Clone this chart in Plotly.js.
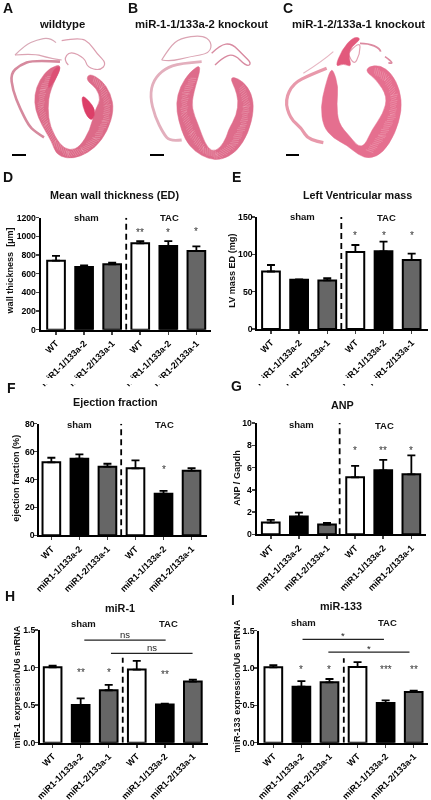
<!DOCTYPE html>
<html><head><meta charset="utf-8">
<script src="https://cdn.plot.ly/plotly-3.0.1.min.js"></script>
<style>html,body{margin:0;padding:0;background:#fff}#c{width:431px;height:800px;filter:blur(0.3px)}</style>
</head><body><div id="c"></div>
<script>
const W=431,H=800;
const categories=['WT','miR1-1/133a-2','miR1-2/133a-1','WT','miR1-1/133a-2','miR1-2/133a-1'];
const barColors=['#ffffff','#000000','#666666','#ffffff','#000000','#666666'];

const wallValues=[740,672,700,925,896,843];
const wallErrors=[50,18,18,25,54,50];
const massValues=[77,66,65,103,104,92.4];
const massErrors=[8.7,0.3,3,9.5,13,8.6];
const efValues=[52.3,54.9,49.2,48,29.8,46.3];
const efErrors=[3.3,3.1,2.1,5.7,2,1.9];
const anpValues=[1.05,1.59,0.87,5.12,5.75,5.39];
const anpErrors=[0.24,0.36,0.15,1.02,0.93,1.71];
const mir1Values=[1.004,0.502,0.698,0.973,0.507,0.813];
const mir1Errors=[0.023,0.088,0.072,0.117,0.013,0.027];
const mir133Values=[1.009,0.75,0.808,1.013,0.531,0.679];
const mir133Errors=[0.031,0.076,0.045,0.067,0.036,0.017];

const FONT='"Liberation Sans", Arial, sans-serif';
const px=x=>x/W, py=y=>1-y/H;

const panels=[
 {v:wallValues,e:wallErrors,box:[40.7,210.7,217.7,329.7],xr:[-0.546,5.51],max:1200,dt:200,yt:'wall thickness  [µm]',tx:9.5,ty:271,
  stars:[[3,'**',1040],[4,'*',1040],[5,'*',1050]],dash:1200},
 {v:massValues,e:massErrors,box:[257.3,427.7,217,329],xr:[-0.486,5.57],max:150,dt:50,yt:'LV mass ED (mg)',tx:231.7,ty:271,
  stars:[[3,'*',125],[4,'*',125],[5,'*',125]],dash:150},
 {v:efValues,e:efErrors,box:[39.3,206.7,423.7,535.3],xr:[-0.43,5.54],max:80,dt:20,yt:'ejection fraction (%)',tx:15.7,ty:478,
  stars:[[4,'*',47]],dash:80},
 {v:anpValues,e:anpErrors,box:[256.7,425.7,423,534.3],xr:[-0.5,5.51],max:10,dt:2,yt:'ANP / Gapdh',tx:236.7,ty:478,
  stars:[[3,'*',7.5],[4,'**',7.5],[5,'*',7.5]],dash:10},
 {v:mir1Values,e:mir1Errors,box:[40,208,630,742.7],xr:[-0.45,5.54],max:1.5,dt:0.5,yt:'miR-1 expression/U6 snRNA',tx:16.7,ty:686.7,
  stars:[[1,'**',0.93],[2,'*',0.93],[4,'**',0.91]],dash:1.13,
  spans:[[1.13,4.03,1.364,'ns',1.44],[2.08,4.99,1.19,'ns',1.267]]},
 {v:mir133Values,e:mir133Errors,box:[259.3,428.3,630.7,742.7],xr:[-0.5,5.52],max:1.5,dt:0.5,yt:'miR-133 expression/U6 snRNA',tx:237,ty:686.7,
  stars:[[1,'*',0.98],[2,'*',0.98],[4,'***',0.98],[5,'**',0.98]],dash:1.13,
  spans:[[1.04,3.94,1.384,'*',1.43],[1.96,4.85,1.214,'*',1.26]]}
];
const dashX=[2.5,2.5,2.49,2.45,2.5,2.51];

const texts=[
 ['A',7.5,8,14,700],['B',133,8,14,700],['C',288,8,14,700],
 ['D',7.5,177,14,700],['E',236,177,14,700],['F',11,388,14,700],['G',236,386,14,700],['H',10,596,14,700],['I',233,600,14,700],
 ['wildtype',62,24,11.3,700],['miR-1-1/133a-2 knockout',201,24,11.3,700],['miR-1-2/133a-1 knockout',358.7,24,11.3,700],
 ['Mean wall thickness (ED)',115,195,10.8,700],['Left Ventricular mass',357,195,10.8,700],
 ['Ejection fraction',115.7,402,10.8,700],['ANP',342,404.7,10.8,700],['miR-1',120,607.7,10.8,700],['miR-133',341,605.7,10.8,700],
 ['sham',86,217,9.5,700],['TAC',169,218,9.5,700],['sham',302,216,9.5,700],['TAC',386,217,9.5,700],
 ['sham',79,424,9.5,700],['TAC',164,424,9.5,700],['sham',301,424,9.5,700],['TAC',384,425,9.5,700],
 ['sham',83,623,9.5,700],['TAC',168,623,9.5,700],['sham',303,622,9.5,700],['TAC',387,622,9.5,700]
];

// ---- heart section sketches (page-pixel illustration, not data) ----
function smooth(pts,ox,oy,closed){
 const P=pts.map(p=>[ox+p[0]/3,oy+p[1]/3]);
 const f=p=>px(p[0]).toFixed(5)+' '+py(p[1]).toFixed(5);
 const mid=(a,b)=>[(a[0]+b[0])/2,(a[1]+b[1])/2];
 let d;
 if(closed){
  d='M '+f(mid(P[P.length-1],P[0]));
  P.forEach((p,i)=>{d+=' Q '+f(p)+' '+f(mid(p,P[(i+1)%P.length]));});
  return d+' Z';
 }
 d='M '+f(P[0]);
 for(let i=1;i<P.length-1;i++) d+=' Q '+f(P[i])+' '+f(i===P.length-2?P[i+1]:mid(P[i],P[i+1]));
 return d;
}
const decor=[];
const base={type:'path',xref:'paper',yref:'paper',layer:'above'};
function fillS(pts,ox,oy,fill,line){decor.push({...base,path:smooth(pts,ox,oy,true),fillcolor:fill,line:{color:line||fill,width:0.5}});}
function strokeS(pts,ox,oy,color,w){decor.push({...base,path:smooth(pts,ox,oy,false),fillcolor:'rgba(0,0,0,0)',line:{color:color,width:w}});}
function hatch(pts,ox,oy,half,color,w){
 let d='';const f=(x,y)=>px(x).toFixed(5)+' '+py(y).toFixed(5);
 for(let i=0;i<pts.length-1;i++){
  const a=[ox+pts[i][0]/3,oy+pts[i][1]/3],b=[ox+pts[i+1][0]/3,oy+pts[i+1][1]/3];
  const dx=b[0]-a[0],dy=b[1]-a[1],L=Math.hypot(dx,dy),ux=dx/L,uy=dy/L,nx=-uy,ny=ux;
  for(let s=0;s<L;s+=2.1){
   const cx=a[0]+ux*s,cy=a[1]+uy*s,k=half*(0.7+0.3*((i+Math.round(s))%3)/2);
   d+=' M '+f(cx-nx*k-ux*1.2,cy-ny*k-uy*1.2)+' L '+f(cx+nx*k+ux*1.2,cy+ny*k+uy*1.2);
  }
 }
 decor.push({...base,path:d.trim(),fillcolor:'rgba(0,0,0,0)',line:{color:color,width:w}});
}
const STRIA='rgba(250,225,231,0.55)';

// heart A
(()=>{const o=[0,30];
 strokeS([[45,75],[75,45],[110,30],[150,22],[168,38]],o[0],o[1],'#d8a8b6',1.2);
 strokeS([[45,75],[100,70],[150,85],[185,90]],o[0],o[1],'#dba4b3',1.2);
 strokeS([[185,32],[240,22],[270,40],[290,70],[320,100],[300,122],[262,112],[255,85],[210,62],[190,90],[205,105]],o[0],o[1],'#dc9fb0',1.2);
 strokeS([[180,95],[100,90],[60,105],[32,130],[38,180],[60,235],[85,285],[105,305],[132,322]],o[0],o[1],'#d68a9e',2.6);
 fillS([[190,102],[150,112],[118,150],[103,195],[106,240],[125,285],[155,335],[168,372],[200,386],[242,380],[287,352],[322,305],[342,240],[332,190],[305,150],[268,130],[258,150],[290,175],[302,210],[285,240],[270,300],[240,350],[210,362],[180,345],[150,290],[143,235],[150,180]],o[0],o[1],'#dc6a88');
 hatch([[150,140],[128,180],[122,235],[138,285],[165,340],[205,372],[250,362],[290,325],[318,270],[322,220],[305,170],[280,148]],o[0],o[1],3.6,STRIA,0.45);
 fillS([[245,195],[265,210],[287,240],[278,272],[262,262],[248,230]],o[0],o[1],'#dc3f68');
 fillS([[160,115],[185,108],[160,160],[140,180]],o[0],o[1],'#dd4f74');
})();
// heart B
(()=>{const o=[140,30];
 strokeS([[65,90],[90,50],[120,25],[185,15],[215,35],[210,70],[150,80],[90,95],[65,90]],o[0],o[1],'#dba4b3',1.2);
 strokeS([[215,70],[240,45],[275,40],[310,75],[335,100],[320,110],[280,70],[245,85],[225,105]],o[0],o[1],'#d88aa0',1.4);
 strokeS([[185,95],[120,100],[75,115],[40,150],[30,200],[45,260],[70,310],[90,335],[125,330]],o[0],o[1],'#e3afbd',2.8);
 fillS([[187,100],[150,125],[120,170],[108,220],[115,270],[135,330],[165,365],[205,387],[245,390],[290,365],[325,310],[342,240],[335,190],[310,155],[280,140],[272,148],[285,175],[295,210],[290,255],[265,300],[260,320],[240,355],[215,365],[195,340],[175,285],[155,235],[160,190]],o[0],o[1],'#de6c8b');
 hatch([[160,145],[135,195],[132,250],[155,310],[190,360],[235,378],[280,345],[310,285],[320,225],[305,170]],o[0],o[1],3.8,STRIA,0.45);
})();
// heart C
(()=>{const o=[280,30];
 strokeS([[70,130],[130,92],[160,65]],o[0],o[1],'#e7b7c3',1.2);
 strokeS([[240,40],[265,40],[300,55],[302,65]],o[0],o[1],'#dc8aa0',1.8);
 strokeS([[315,80],[350,105],[325,98]],o[0],o[1],'#dc8aa0',1.6);
 strokeS([[205,70],[240,30],[240,72],[220,110],[205,70]],o[0],o[1],'#e3a0b2',1.2);
 fillS([[165,112],[185,60],[220,20],[245,25],[215,50],[205,75],[215,112],[190,100]],o[0],o[1],'#e2597c');
 strokeS([[140,115],[90,135],[40,160],[15,210],[30,265],[65,295],[85,330],[130,338]],o[0],o[1],'#e899ab',3.2);
 fillS([[150,122],[135,170],[122,230],[130,290],[160,325],[200,345],[235,375],[270,387],[310,367],[345,312],[366,240],[360,180],[335,130],[300,105],[265,110],[258,125],[290,150],[322,200],[310,250],[275,300],[255,345],[235,350],[210,320],[175,280],[170,220],[175,170],[160,120]],o[0],o[1],'#e56f8f');
 hatch([[285,122],[320,145],[342,195],[338,255],[305,320],[265,368]],o[0],o[1],3.8,STRIA,0.45);
})();
[[12,26,155],[150,164,155],[286,299,155]].forEach(b=>decor.push({type:'line',xref:'paper',yref:'paper',layer:'above',x0:px(b[0]),x1:px(b[1]),y0:py(b[2]),y1:py(b[2]),line:{color:'#000',width:2}}));

// ---- build figure ----
const data=[],shapes=[...decor],annotations=[];
const layout={width:W,height:H,margin:{l:0,r:0,t:0,b:0},paper_bgcolor:'#fff',plot_bgcolor:'rgba(0,0,0,0)',showlegend:false,font:{family:FONT,color:'#000'}};
panels.forEach((p,i)=>{
 const n=i+1,xk=n===1?'xaxis':'xaxis'+n,yk=n===1?'yaxis':'yaxis'+n,xa='x'+(n===1?'':n),ya='y'+(n===1?'':n);
 data.push({type:'bar',x:[0,1,2,3,4,5],y:p.v,xaxis:xa,yaxis:ya,width:0.63,
  marker:{color:barColors,line:{color:'#000',width:2}},
  error_y:{type:'data',symmetric:false,array:p.e,arrayminus:p.e.map(()=>0),color:'#000',thickness:1.8,width:4},hoverinfo:'skip'});
 layout[xk]={domain:[px(p.box[0]),px(p.box[1])],range:p.xr,anchor:ya,tickmode:'array',tickvals:[0,1,2,3,4,5],ticktext:categories,tickangle:-45,
  ticks:'outside',ticklen:3,tickwidth:1.5,showline:true,linewidth:2,linecolor:'#000',showgrid:false,zeroline:false,
  tickfont:{family:FONT,size:9,weight:700,color:'#000'},automargin:false};
 layout[yk]={domain:[py(p.box[3]),py(p.box[2])],range:[0,p.max],anchor:xa,dtick:p.dt,tick0:0,ticks:'outside',ticklen:3,tickwidth:1.5,ticklabelstandoff:-2,
  showline:true,linewidth:2,linecolor:'#000',showgrid:false,zeroline:false,tickformat:p.max<2?'.1f':'d',
  tickfont:{family:FONT,size:8.7,weight:700,color:'#000'},automargin:false};
 annotations.push({xref:'paper',yref:'paper',x:px(p.tx),y:py(p.ty),text:p.yt,textangle:-90,showarrow:false,xanchor:'center',yanchor:'middle',font:{family:FONT,size:9.1,weight:700,color:'#111'}});
 shapes.push({type:'line',xref:xa,yref:ya,x0:dashX[i],x1:dashX[i],y0:0,y1:p.dash,layer:'above',line:{color:'#000',width:1.8,dash:'6px,4px'}});
 p.stars.forEach(s=>annotations.push({xref:xa,yref:ya,x:s[0],y:s[2],text:s[1],showarrow:false,xanchor:'center',yanchor:'middle',font:{family:FONT,size:10,color:'#333'}}));
 (p.spans||[]).forEach(s=>{
  shapes.push({type:'line',xref:xa,yref:ya,x0:s[0],x1:s[1],y0:s[2],y1:s[2],layer:'above',line:{color:'#222',width:1.3}});
  annotations.push({xref:xa,yref:ya,x:(s[0]+s[1])/2,y:s[4],text:s[3],showarrow:false,xanchor:'center',yanchor:'middle',font:{family:FONT,size:9.5,color:'#222'}});
 });
});
texts.forEach(t=>annotations.push({xref:'paper',yref:'paper',x:px(t[1]),y:py(t[2]),text:t[0],showarrow:false,xanchor:'center',yanchor:'middle',borderpad:0,
 font:{family:FONT,size:t[3],weight:t[4],color:'#111'}}));
shapes.push({type:'rect',xref:'paper',yref:'paper',x0:0,x1:1,y0:py(384),y1:py(378),layer:'above',fillcolor:'#fff',line:{width:0}});
layout.shapes=shapes;layout.annotations=annotations;
Plotly.newPlot('c',data,layout,{displayModeBar:false,staticPlot:true});
</script></body></html>
